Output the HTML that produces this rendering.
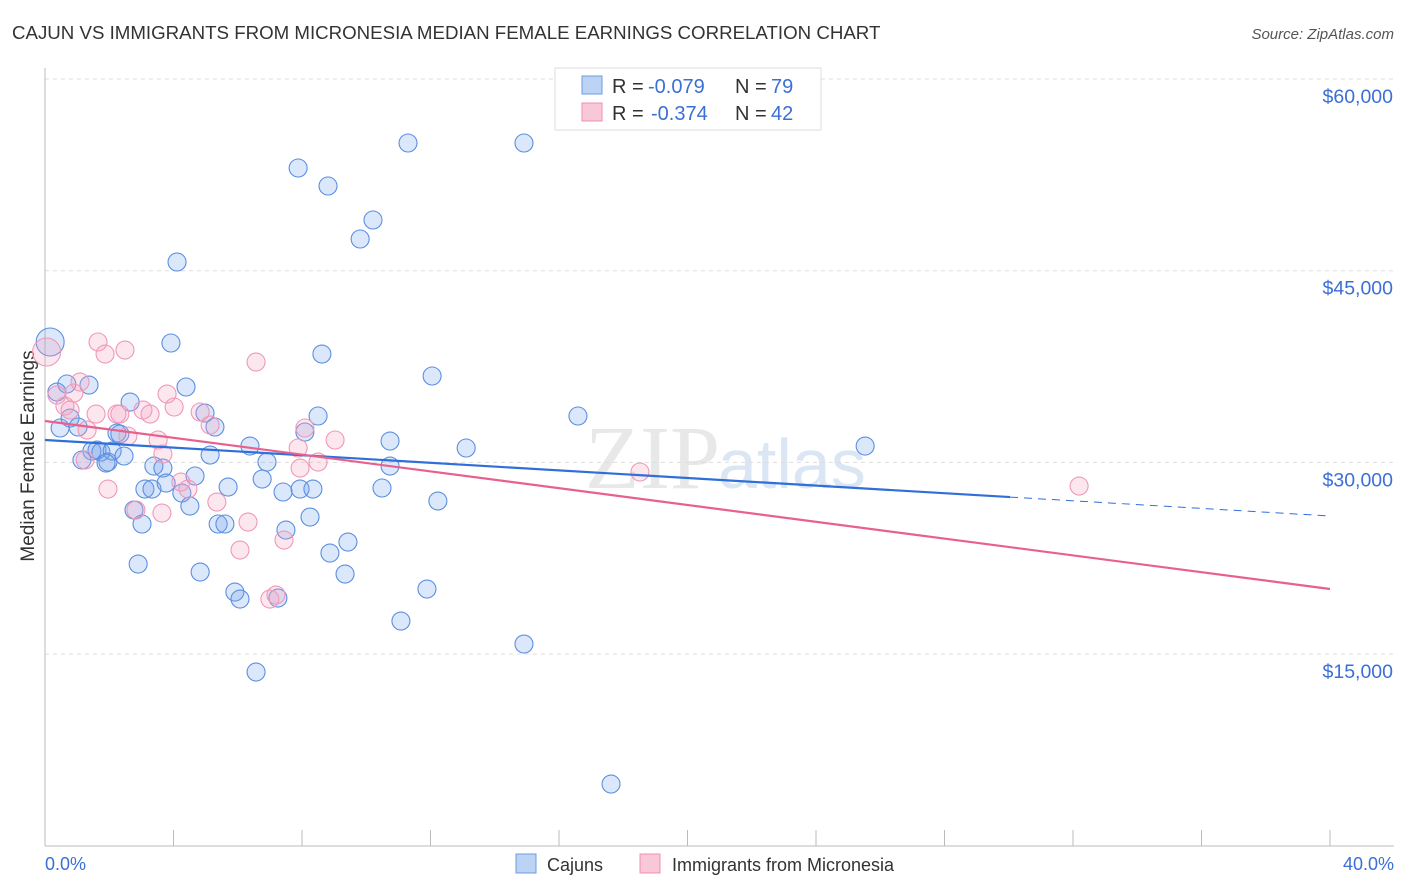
<!DOCTYPE html>
<html><head><meta charset="utf-8"><style>
body{margin:0;background:#fff;font-family:"Liberation Sans",sans-serif;}
svg{display:block}
</style></head><body>
<svg id="chart" width="1406" height="892">
<text x="12" y="39" font-size="18.7" fill="#333">CAJUN VS IMMIGRANTS FROM MICRONESIA MEDIAN FEMALE EARNINGS CORRELATION CHART</text>
<text x="1394" y="39" font-size="15" fill="#555" font-style="italic" text-anchor="end">Source: ZipAtlas.com</text>
<text x="720" y="488" font-size="90" fill="#e8e8e8" text-anchor="end" font-family="Liberation Serif">ZIP</text>
<text x="718" y="488" font-size="70" fill="#dbe6f5">atlas</text>
<g id="grid"></g>
<line x1="45" y1="68" x2="45" y2="846" stroke="#bbb"/>
<line x1="45" y1="846" x2="1394" y2="846" stroke="#bbb"/>
<g id="xticks"></g>
<text x="34" y="456" font-size="19" fill="#333" text-anchor="middle" transform="rotate(-90 34 456)">Median Female Earnings</text>
<text x="45" y="870" font-size="18" fill="#3b6fd4">0.0%</text>
<text x="1394" y="870" font-size="18" fill="#3b6fd4" text-anchor="end">40.0%</text>
<g id="points"></g>
<g id="trends"></g>
<g>
<rect x="555" y="68" width="266" height="62" fill="#fff" stroke="#ddd"/>
<rect x="582" y="76" width="20" height="18" fill="#bcd3f5" stroke="#6c9be0"/>
<rect x="582" y="103" width="20" height="18" fill="#f9c8d8" stroke="#f090b0"/>
<text x="612" y="93" font-size="20" fill="#333">R =</text>
<text x="648" y="93" font-size="20" fill="#3b6fd4">-0.079</text>
<text x="735" y="93" font-size="20" fill="#333">N =</text>
<text x="771" y="93" font-size="20" fill="#3b6fd4">79</text>
<text x="612" y="120" font-size="20" fill="#333">R =</text>
<text x="651" y="120" font-size="20" fill="#3b6fd4">-0.374</text>
<text x="735" y="120" font-size="20" fill="#333">N =</text>
<text x="771" y="120" font-size="20" fill="#3b6fd4">42</text>
</g>
<g>
<rect x="516" y="854" width="20" height="19" fill="#bcd3f5" stroke="#6c9be0"/>
<text x="547" y="871" font-size="18" fill="#333">Cajuns</text>
<rect x="640" y="854" width="20" height="19" fill="#f9c8d8" stroke="#f090b0"/>
<text x="672" y="871" font-size="18" fill="#333">Immigrants from Micronesia</text>
</g>
</svg>
<script>
const yTicks=[15000,30000,45000,60000];
const yTickLabels=["$15,000","$30,000","$45,000","$60,000"];
const xTicks=[0,4,8,12,16,20,24,28,32,36,40];
const blueX=[0.16,0.37,0.47,0.68,0.78,1.03,1.37,1.46,1.62,1.74,1.96,2.09,2.24,2.33,2.46,2.65,2.77,3.02,2.90,3.11,3.33,3.39,3.67,3.77,3.92,4.11,4.26,4.39,4.51,4.67,4.83,4.98,5.14,5.29,5.39,5.60,5.70,5.91,6.07,6.38,6.57,6.76,6.91,7.25,7.41,7.50,7.88,7.94,8.09,8.25,8.34,8.50,8.62,8.81,8.87,9.34,9.43,9.81,10.21,10.49,10.74,10.74,11.08,11.30,11.89,12.05,12.23,13.11,14.91,14.91,16.59,17.62,25.53,1.15,1.90];
const blueY=[39420,35507,32691,36134,33473,32769,36055,30891,30969,30813,30030,30891,32299,32221,30500,34725,26274,25179,22049,27917,27917,29717,29560,28387,39342,45680,27604,35899,26587,28935,21423,33864,30578,32769,25179,25179,28074,19858,19310,31282,13598,28700,30030,19388,27683,24709,53036,27917,32378,25726,27917,33630,38481,51627,22909,21266,23770,47480,48967,27996,31673,29717,17588,54992,20092,36760,26978,31126,54992,15789,33630,4834,31282,30187,29950];
const pinkX=[0.05,0.37,0.62,0.78,0.90,1.09,1.65,1.87,2.49,1.31,1.59,1.96,2.24,2.33,2.58,2.83,3.05,3.27,3.52,3.67,3.80,4.02,4.23,4.45,4.83,5.14,5.35,6.07,6.32,6.57,7.00,7.19,7.44,7.88,7.94,8.09,8.50,9.03,18.52,32.19,1.25,3.64];
const pinkY=[38638,35273,34412,34099,35429,36290,39420,38481,38794,32534,33786,27917,33786,33786,32065,26274,34099,33786,31752,30656,35351,34334,28465,27917,33943,32925,26900,23144,25335,37855,19310,19623,23927,31126,29560,32691,30030,31752,29248,28152,30187,26039];
const blueTrend=[31753,25806];
const blueSolidEnd=30.04;
const pinkTrend=[33240,20094];
const NS="http://www.w3.org/2000/svg";
function xs(v){return 45+v/40*1285;}
function ys(v){return 79+(60000-v)/15000*191.7;}
function mk(tag,attrs,parent){const e=document.createElementNS(NS,tag);for(const k in attrs)e.setAttribute(k,attrs[k]);document.getElementById(parent).appendChild(e);return e;}
yTicks.forEach((t,i)=>{
 const l=mk('line',{x1:45,x2:1394,y1:ys(t),y2:ys(t),stroke:'#ddd','stroke-dasharray':'4,4'},'grid');
 
 
 const tx=mk('text',{x:1393,y:ys(t)+24,'font-size':19.5,fill:'#3b6fd4','text-anchor':'end'},'grid');
 tx.textContent=yTickLabels[i];
 
 
});
xTicks.forEach(t=>{
 const l=mk('line',{x1:xs(t),x2:xs(t),y1:830,y2:846,stroke:'#bbb'},'xticks');
 
 
});
blueX.forEach((x,i)=>{
 const c=mk('circle',{cx:xs(x),cy:ys(blueY[i]),r:i===0?14:9,fill:'rgba(110,160,235,0.25)',stroke:'#5b8fe0','stroke-width':1.1},'points');
 
 
});
pinkX.forEach((x,i)=>{
 const c=mk('circle',{cx:xs(x),cy:ys(pinkY[i]),r:i===0?14:9,fill:'rgba(245,160,190,0.25)',stroke:'#f098b8','stroke-width':1.1},'points');
 
 
});
function lin(tr,x){return tr[0]+(tr[1]-tr[0])*x/40;}
let l1=mk('line',{x1:xs(0),y1:ys(blueTrend[0]),x2:xs(blueSolidEnd),y2:ys(lin(blueTrend,blueSolidEnd)),stroke:'#2f6fd8','stroke-width':2.2},'trends');


let l2=mk('line',{x1:xs(blueSolidEnd),y1:ys(lin(blueTrend,blueSolidEnd)),x2:xs(40),y2:ys(blueTrend[1]),stroke:'#2f6fd8','stroke-width':1,'stroke-dasharray':'8,6'},'trends');


let l3=mk('line',{x1:xs(0),y1:ys(pinkTrend[0]),x2:xs(40),y2:ys(pinkTrend[1]),stroke:'#e8608e','stroke-width':2.2},'trends');


</script>
</body></html>
